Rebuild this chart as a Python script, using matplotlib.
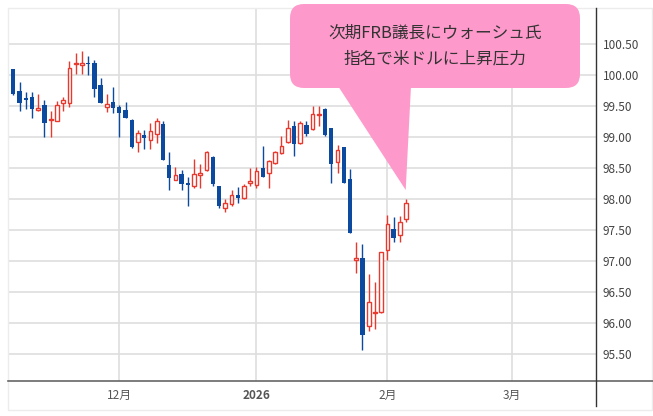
import matplotlib
matplotlib.use('Agg')
import matplotlib.pyplot as plt
from matplotlib.patches import FancyBboxPatch, Polygon, Rectangle
import numpy as np

plt.rcParams['font.family'] = ['Noto Sans CJK JP', 'DejaVu Sans']

# 日足（左端の1本は一部だけ見える）
opens = [100.20, 100.09, 99.74, 99.62, 99.65, 99.44, 99.51, 99.27, 99.25, 99.55,
         99.55, 100.17, 100.16, 100.18, 100.20, 99.84, 99.48, 99.56, 99.48, 99.44,
         99.27, 98.91, 99.03, 98.95, 99.05, 99.21, 98.54, 98.31, 98.40, 98.26,
         98.21, 98.38, 98.47, 98.67, 98.21, 97.86, 97.91, 98.06, 98.01, 98.25,
         98.23, 98.49, 98.41, 98.58, 98.74, 98.91, 99.18, 98.90, 99.19, 99.12,
         99.35, 99.45, 99.14, 98.60, 98.83, 98.32, 97.02, 97.05, 95.95, 96.15,
         96.17, 97.17, 97.51, 97.42, 97.67]
highs = [100.25, 100.10, 99.88, 99.73, 99.73, 99.70, 99.60, 99.41, 99.58, 99.65,
         100.23, 100.35, 100.39, 100.30, 100.24, 99.95, 99.70, 99.81, 99.52, 99.56,
         99.29, 99.11, 99.11, 99.22, 99.30, 99.25, 98.76, 98.52, 98.47, 98.35,
         98.64, 98.56, 98.77, 98.69, 98.21, 97.99, 98.14, 98.19, 98.24, 98.49,
         98.52, 98.85, 98.63, 98.78, 99.02, 99.27, 99.25, 99.25, 99.25, 99.50,
         99.50, 99.46, 99.14, 98.87, 98.84, 98.48, 97.31, 97.27, 96.78, 96.66,
         97.14, 97.74, 97.70, 97.72, 97.99]
lows = [100.05, 99.67, 99.41, 99.45, 99.30, 99.42, 98.99, 98.99, 99.25, 99.41,
        99.49, 100.01, 100.01, 100.00, 99.65, 99.54, 99.40, 99.38, 99.00, 99.30,
        98.82, 98.76, 98.80, 98.80, 98.90, 98.62, 98.15, 98.31, 98.15, 97.88,
        98.18, 98.18, 98.45, 98.21, 97.86, 97.78, 97.89, 97.94, 97.99, 98.21,
        98.18, 98.36, 98.18, 98.56, 98.72, 98.90, 98.69, 98.88, 99.02, 99.11,
        99.18, 99.02, 98.26, 98.42, 98.26, 97.45, 96.81, 95.56, 95.86, 95.90,
        96.16, 97.02, 97.30, 97.31, 97.62]
closes = [100.12, 99.69, 99.54, 99.60, 99.45, 99.46, 99.22, 99.28, 99.52, 99.59,
          100.11, 100.20, 100.19, 100.17, 99.78, 99.54, 99.53, 99.46, 99.39, 99.30,
          98.84, 99.06, 98.98, 99.10, 99.25, 98.62, 98.33, 98.38, 98.24, 98.22,
          98.40, 98.42, 98.76, 98.24, 97.89, 97.94, 98.06, 98.01, 98.21, 98.29,
          98.45, 98.36, 98.61, 98.75, 98.85, 99.15, 98.88, 99.23, 99.05, 99.37,
          99.37, 99.03, 98.56, 98.79, 98.26, 97.45, 97.04, 95.81, 96.34, 96.17,
          97.14, 97.59, 97.37, 97.63, 97.94]

# 月の区切り（営業日番号）
month_ticks = [17, 39, 60, 80]
month_labels = ['12月', '2026', '2月', '3月']

y_ticks = [95.5, 96.0, 96.5, 97.0, 97.5, 98.0, 98.5, 99.0, 99.5, 100.0, 100.5]

note_lines = ['次期FRB議長にウォーシュ氏', '指名で米ドルに上昇圧力']

blue = '#0b4a9e'
red = '#e8392f'
pink = '#fd9acb'

o = np.array(opens)
h = np.array(highs)
l = np.array(lows)
c = np.array(closes)
x = np.arange(len(o)) - 1
up = c >= o

W, H = 653, 416
fig = plt.figure(figsize=(W / 100, H / 100), dpi=100)
ax = fig.add_axes([8 / W, 1 - 381 / H, (596 - 8) / W, (381 - 8) / H])

# ヒゲ
ax.vlines(x[up], l[up], h[up], color=red, lw=1, zorder=2)
ax.vlines(x[~up], l[~up], h[~up], color=blue, lw=1, zorder=2)

# 実体
body_lo = np.minimum(o, c)
body_h = np.maximum(np.abs(c - o), 0.015)
ax.bar(x[~up], body_h[~up], bottom=body_lo[~up], width=0.7, color=blue,
       linewidth=0, zorder=3)
ax.bar(x[up], body_h[up], bottom=body_lo[up], width=0.6, facecolor='white',
       edgecolor=red, linewidth=1, zorder=3)

ax.set_xlim(-0.85, 93.45)
ax.set_ylim(95.06, 101.08)
ax.set_yticks(y_ticks)
ax.set_yticklabels([f'{v:.2f}' for v in y_ticks])
ax.yaxis.tick_right()
ax.tick_params(axis='y', length=0, pad=5, labelsize=8.5, labelcolor='#444')
ax.set_xticks(month_ticks)
ax.set_xticklabels(month_labels)
ax.tick_params(axis='x', length=0, pad=6, labelsize=8.5, labelcolor='#555')
for t in ax.get_xticklabels():
    if t.get_text() == '2026':
        t.set_fontweight('bold')
ax.grid(color='#dedede', lw=1.2)
ax.set_axisbelow(True)
for s in ax.spines.values():
    s.set_visible(False)

# 枠線と吹き出し（ピクセル座標）
ov = fig.add_axes([0, 0, 1, 1], zorder=5)
ov.set_xlim(0, W)
ov.set_ylim(H, 0)
ov.axis('off')
ov.patch.set_alpha(0)
ov.add_patch(Rectangle((8, 8), 644, 402, fill=False, ec='#ececec', lw=1))
ov.plot([8, 653], [381, 381], color='#666666', lw=1.2)
ov.plot([596, 596], [8, 406], color='#333333', lw=1)

ov.add_patch(FancyBboxPatch((290, 4), 290, 84,
                            boxstyle='round,pad=0,rounding_size=14',
                            fc=pink, ec='none'))
ov.add_patch(Polygon([(338, 86), (411, 86), (405.7, 190)], closed=True,
                     fc=pink, ec='none'))
ov.text(435, 33, note_lines[0], ha='center', va='center', fontsize=12, color='#333333')
ov.text(435, 59, note_lines[1], ha='center', va='center', fontsize=12, color='#333333')

fig.savefig('out.png', dpi=100)
